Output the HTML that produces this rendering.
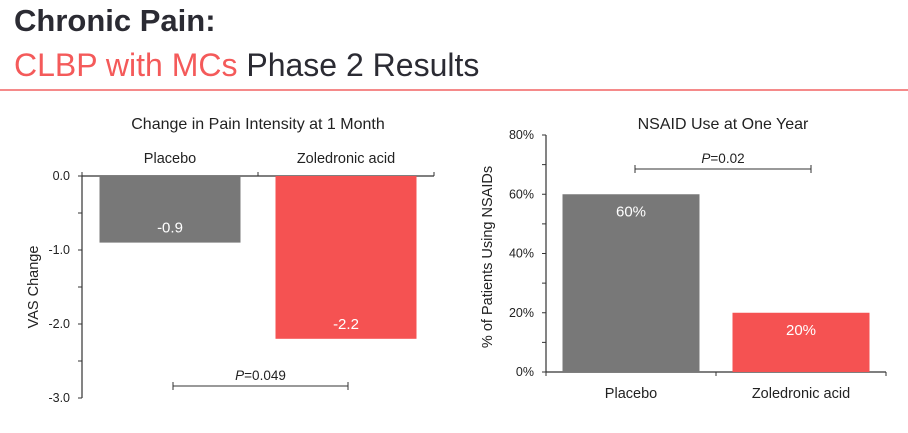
<!DOCTYPE html>
<html><head><meta charset="utf-8"><style>
body{margin:0;width:908px;height:433px;background:#fff;overflow:hidden;font-family:"Liberation Sans",sans-serif}
#hdr1{position:absolute;left:14px;top:3px;font-size:31px;font-weight:bold;color:#2b2b33}
#hdr2{position:absolute;left:14px;top:47px;font-size:32px;color:#2b2b33}
#hdr2 span{color:#f45a5a}
#rule{position:absolute;left:0;top:89px;width:908px;height:2px;background:#f58a8a}
svg{position:absolute;left:0;top:0}
</style></head><body>
<div id="hdr1">Chronic Pain:</div>
<div id="hdr2"><span>CLBP with MCs</span> Phase 2 Results</div>
<div id="rule"></div>
<svg id="chart" width="908" height="433"></svg>
<script>
const categories = ["Placebo", "Zoledronic acid"];
const vasValues = [-0.9, -2.2];
const vasLabels = ["-0.9", "-2.2"];
const vasTicks = [0, -1, -2, -3];
const vasTickLabels = ["0.0", "-1.0", "-2.0", "-3.0"];
const nsaidValues = [60, 20];
const nsaidLabels = ["60%", "20%"];
const nsaidTicks = [0, 20, 40, 60, 80];
const nsaidTickLabels = ["0%", "20%", "40%", "60%", "80%"];
const colors = ["#787878", "#f55252"];

const svg = document.getElementById('chart');
const NS = 'http://www.w3.org/2000/svg';
function mk(tag, attrs, text) {
  const e = document.createElementNS(NS, tag);
  for (const k in attrs) e.setAttribute(k, attrs[k]);
  if (text !== undefined) e.textContent = text;
  svg.appendChild(e);
  return e;
}
// Left chart
const yL = v => 176 + (0 - v) * 74;
const xL0 = 82, xL1 = 434, bandL = (xL1 - xL0) / 2;
let t = mk('text', {x: 258, y: 129, 'font-size': 16, 'text-anchor': 'middle', fill: '#222'}, 'Change in Pain Intensity at 1 Month');


let a = mk('line', {x1: xL0, x2: xL0, y1: yL(0), y2: yL(-3), stroke: '#333', 'stroke-width': 1.2});


for (let v = 0; v >= -3; v -= 0.5) {
  let tk = mk('line', {x1: xL0 - 4, x2: xL0, y1: yL(v), y2: yL(v), stroke: '#333'});
  
  
}
vasTicks.forEach((v, i) => {
  let l = mk('text', {x: xL0 - 12, y: yL(v) + 4, 'font-size': 12.5, 'text-anchor': 'end', fill: '#222'}, vasTickLabels[i]);
  
  
});
let yt = mk('text', {x: 0, y: 0, 'font-size': 14.5, 'text-anchor': 'middle', fill: '#222', transform: 'translate(38,287) rotate(-90)'}, 'VAS Change');


let xa = mk('line', {x1: xL0, x2: xL1, y1: yL(0), y2: yL(0), stroke: '#333', 'stroke-width': 1.2});


[0, 1, 2].forEach(i => {
  let tk = mk('line', {x1: xL0 + i * bandL, x2: xL0 + i * bandL, y1: yL(0) - 4, y2: yL(0), stroke: '#333'});
  
  
});
categories.forEach((c, i) => {
  const cx = xL0 + bandL * (i + 0.5);
  let b = mk('rect', {x: cx - 70.5, y: yL(0), width: 141, height: yL(vasValues[i]) - yL(0), fill: colors[i]});
  
  
  let bl = mk('text', {x: cx, y: yL(vasValues[i]) - 10, 'font-size': 15, 'text-anchor': 'middle', fill: '#fff'}, vasLabels[i]);
  
  
  let cl = mk('text', {x: cx, y: 163, 'font-size': 14.5, 'text-anchor': 'middle', fill: '#222'}, c);
  
  
});
function bracket(x1, x2, y, label, name) {
  let g = mk('path', {d: `M${x1} ${y-4}V${y+4}M${x1} ${y}H${x2}M${x2} ${y-4}V${y+4}`, stroke: '#333', fill: 'none'});
  
  
  let tx = mk('text', {x: (x1 + x2) / 2, y: y - 6, 'font-size': 13.5, 'text-anchor': 'middle', fill: '#222'});
  
  
  tx.innerHTML = '<tspan font-style="italic">P</tspan>' + label;
}
bracket(173, 348, 386, '=0.049', 'left-p-bracket');

// Right chart
const yR = v => 372 - v * (237 / 80);
const xR0 = 546, xR1 = 886, bandR = (xR1 - xR0) / 2;
t = mk('text', {x: 723, y: 129, 'font-size': 16, 'text-anchor': 'middle', fill: '#222'}, 'NSAID Use at One Year');


a = mk('line', {x1: xR0, x2: xR0, y1: yR(0), y2: yR(80), stroke: '#333', 'stroke-width': 1.2});


for (let v = 0; v <= 80; v += 10) {
  let tk = mk('line', {x1: xR0 - 4, x2: xR0, y1: yR(v), y2: yR(v), stroke: '#333'});
  
  
}
nsaidTicks.forEach((v, i) => {
  let l = mk('text', {x: xR0 - 12, y: yR(v) + 4, 'font-size': 12.5, 'text-anchor': 'end', fill: '#222'}, nsaidTickLabels[i]);
  
  
});
yt = mk('text', {x: 0, y: 0, 'font-size': 14.5, 'text-anchor': 'middle', fill: '#222', transform: 'translate(492,257) rotate(-90)'}, '% of Patients Using NSAIDs');


xa = mk('line', {x1: xR0, x2: xR1, y1: yR(0), y2: yR(0), stroke: '#333', 'stroke-width': 1.2});


[0, 1, 2].forEach(i => {
  let tk = mk('line', {x1: xR0 + i * bandR, x2: xR0 + i * bandR, y1: yR(0), y2: yR(0) + 4, stroke: '#333'});
  
  
});
categories.forEach((c, i) => {
  const cx = xR0 + bandR * (i + 0.5);
  let b = mk('rect', {x: cx - 68.5, y: yR(nsaidValues[i]), width: 137, height: yR(0) - yR(nsaidValues[i]), fill: colors[i]});
  
  
  let bl = mk('text', {x: cx, y: yR(nsaidValues[i]) + 22, 'font-size': 15, 'text-anchor': 'middle', fill: '#fff'}, nsaidLabels[i]);
  
  
  let cl = mk('text', {x: cx, y: 398, 'font-size': 14.5, 'text-anchor': 'middle', fill: '#222'}, c);
  
  
});
bracket(635, 811, 169, '=0.02', 'right-p-bracket');
</script>
</body></html>
